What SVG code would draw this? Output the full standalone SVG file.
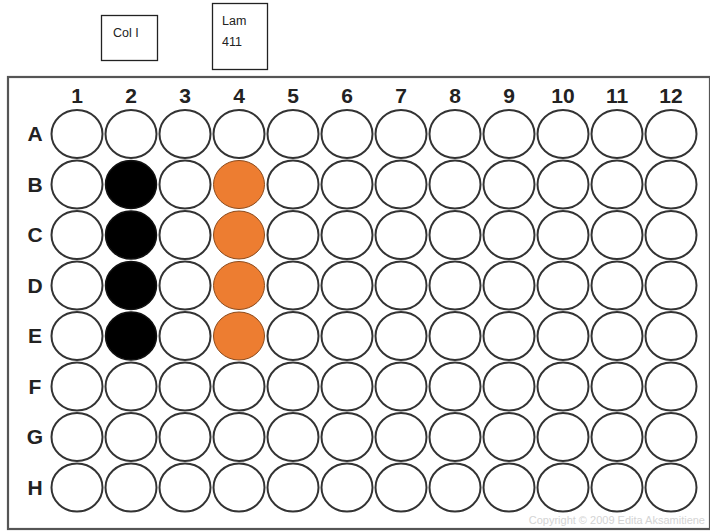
<svg xmlns="http://www.w3.org/2000/svg" width="710" height="532" viewBox="0 0 710 532">
<style>
.box{fill:#fff;stroke:#222;stroke-width:1.3}
.lbl{font-family:"Liberation Sans",Arial,sans-serif;font-size:12.5px;fill:#222}
.hdr{font-family:"Liberation Sans",Arial,sans-serif;font-size:21px;font-weight:bold;fill:#222;text-anchor:middle}
.w{fill:#fff;stroke:#333;stroke-width:2}
.k{fill:#000;stroke:#111;stroke-width:1.5}
.o{fill:#ED7D31;stroke:#8a4a1c;stroke-width:1}
</style>
<rect width="710" height="532" fill="#fff"/>
<g id="label-col1"><rect class="box" x="101.5" y="15.5" width="56" height="45"/><text class="lbl" x="113" y="37">Col I</text></g>
<g id="label-lam411"><rect class="box" x="212.5" y="3.5" width="55" height="66"/><text class="lbl" x="222" y="25">Lam</text><text class="lbl" x="222" y="46">411</text></g>
<g id="plate">
<rect x="8" y="77" width="702" height="452" fill="#fff" stroke="#555" stroke-width="2.2"/>
<g id="col-labels">
<text class="hdr" x="77" y="103">1</text><text class="hdr" x="131" y="103">2</text><text class="hdr" x="185" y="103">3</text><text class="hdr" x="239" y="103">4</text><text class="hdr" x="293" y="103">5</text><text class="hdr" x="347" y="103">6</text><text class="hdr" x="401" y="103">7</text><text class="hdr" x="455" y="103">8</text><text class="hdr" x="509" y="103">9</text><text class="hdr" x="563" y="103">10</text><text class="hdr" x="617" y="103">11</text><text class="hdr" x="671" y="103">12</text>
</g>
<g id="row-labels">
<text class="hdr" x="35" y="141">A</text><text class="hdr" x="35" y="191.5">B</text><text class="hdr" x="35" y="242">C</text><text class="hdr" x="35" y="292.5">D</text><text class="hdr" x="35" y="343">E</text><text class="hdr" x="35" y="393.5">F</text><text class="hdr" x="35" y="444">G</text><text class="hdr" x="35" y="494.5">H</text>
</g>
<defs><ellipse id="well" cx="0" cy="0" rx="25.5" ry="24"/></defs>
<g id="wells">
<g id="row-A"><use href="#well" class="w" x="77" y="134"/><use href="#well" class="w" x="131" y="134"/><use href="#well" class="w" x="185" y="134"/><use href="#well" class="w" x="239" y="134"/><use href="#well" class="w" x="293" y="134"/><use href="#well" class="w" x="347" y="134"/><use href="#well" class="w" x="401" y="134"/><use href="#well" class="w" x="455" y="134"/><use href="#well" class="w" x="509" y="134"/><use href="#well" class="w" x="563" y="134"/><use href="#well" class="w" x="617" y="134"/><use href="#well" class="w" x="671" y="134"/></g>
<g id="row-B"><use href="#well" class="w" x="77" y="184.5"/><use href="#well" class="k" x="131" y="184.5"/><use href="#well" class="w" x="185" y="184.5"/><use href="#well" class="o" x="239" y="184.5"/><use href="#well" class="w" x="293" y="184.5"/><use href="#well" class="w" x="347" y="184.5"/><use href="#well" class="w" x="401" y="184.5"/><use href="#well" class="w" x="455" y="184.5"/><use href="#well" class="w" x="509" y="184.5"/><use href="#well" class="w" x="563" y="184.5"/><use href="#well" class="w" x="617" y="184.5"/><use href="#well" class="w" x="671" y="184.5"/></g>
<g id="row-C"><use href="#well" class="w" x="77" y="235"/><use href="#well" class="k" x="131" y="235"/><use href="#well" class="w" x="185" y="235"/><use href="#well" class="o" x="239" y="235"/><use href="#well" class="w" x="293" y="235"/><use href="#well" class="w" x="347" y="235"/><use href="#well" class="w" x="401" y="235"/><use href="#well" class="w" x="455" y="235"/><use href="#well" class="w" x="509" y="235"/><use href="#well" class="w" x="563" y="235"/><use href="#well" class="w" x="617" y="235"/><use href="#well" class="w" x="671" y="235"/></g>
<g id="row-D"><use href="#well" class="w" x="77" y="285.5"/><use href="#well" class="k" x="131" y="285.5"/><use href="#well" class="w" x="185" y="285.5"/><use href="#well" class="o" x="239" y="285.5"/><use href="#well" class="w" x="293" y="285.5"/><use href="#well" class="w" x="347" y="285.5"/><use href="#well" class="w" x="401" y="285.5"/><use href="#well" class="w" x="455" y="285.5"/><use href="#well" class="w" x="509" y="285.5"/><use href="#well" class="w" x="563" y="285.5"/><use href="#well" class="w" x="617" y="285.5"/><use href="#well" class="w" x="671" y="285.5"/></g>
<g id="row-E"><use href="#well" class="w" x="77" y="336"/><use href="#well" class="k" x="131" y="336"/><use href="#well" class="w" x="185" y="336"/><use href="#well" class="o" x="239" y="336"/><use href="#well" class="w" x="293" y="336"/><use href="#well" class="w" x="347" y="336"/><use href="#well" class="w" x="401" y="336"/><use href="#well" class="w" x="455" y="336"/><use href="#well" class="w" x="509" y="336"/><use href="#well" class="w" x="563" y="336"/><use href="#well" class="w" x="617" y="336"/><use href="#well" class="w" x="671" y="336"/></g>
<g id="row-F"><use href="#well" class="w" x="77" y="386.5"/><use href="#well" class="w" x="131" y="386.5"/><use href="#well" class="w" x="185" y="386.5"/><use href="#well" class="w" x="239" y="386.5"/><use href="#well" class="w" x="293" y="386.5"/><use href="#well" class="w" x="347" y="386.5"/><use href="#well" class="w" x="401" y="386.5"/><use href="#well" class="w" x="455" y="386.5"/><use href="#well" class="w" x="509" y="386.5"/><use href="#well" class="w" x="563" y="386.5"/><use href="#well" class="w" x="617" y="386.5"/><use href="#well" class="w" x="671" y="386.5"/></g>
<g id="row-G"><use href="#well" class="w" x="77" y="437"/><use href="#well" class="w" x="131" y="437"/><use href="#well" class="w" x="185" y="437"/><use href="#well" class="w" x="239" y="437"/><use href="#well" class="w" x="293" y="437"/><use href="#well" class="w" x="347" y="437"/><use href="#well" class="w" x="401" y="437"/><use href="#well" class="w" x="455" y="437"/><use href="#well" class="w" x="509" y="437"/><use href="#well" class="w" x="563" y="437"/><use href="#well" class="w" x="617" y="437"/><use href="#well" class="w" x="671" y="437"/></g>
<g id="row-H"><use href="#well" class="w" x="77" y="487.5"/><use href="#well" class="w" x="131" y="487.5"/><use href="#well" class="w" x="185" y="487.5"/><use href="#well" class="w" x="239" y="487.5"/><use href="#well" class="w" x="293" y="487.5"/><use href="#well" class="w" x="347" y="487.5"/><use href="#well" class="w" x="401" y="487.5"/><use href="#well" class="w" x="455" y="487.5"/><use href="#well" class="w" x="509" y="487.5"/><use href="#well" class="w" x="563" y="487.5"/><use href="#well" class="w" x="617" y="487.5"/><use href="#well" class="w" x="671" y="487.5"/></g>
</g>
<text x="705" y="524" text-anchor="end" font-family="'Liberation Sans',Arial,sans-serif" font-size="11" fill="#d4d4d4">Copyright © 2009 Edita Aksamitiene</text>
</g>
</svg>
